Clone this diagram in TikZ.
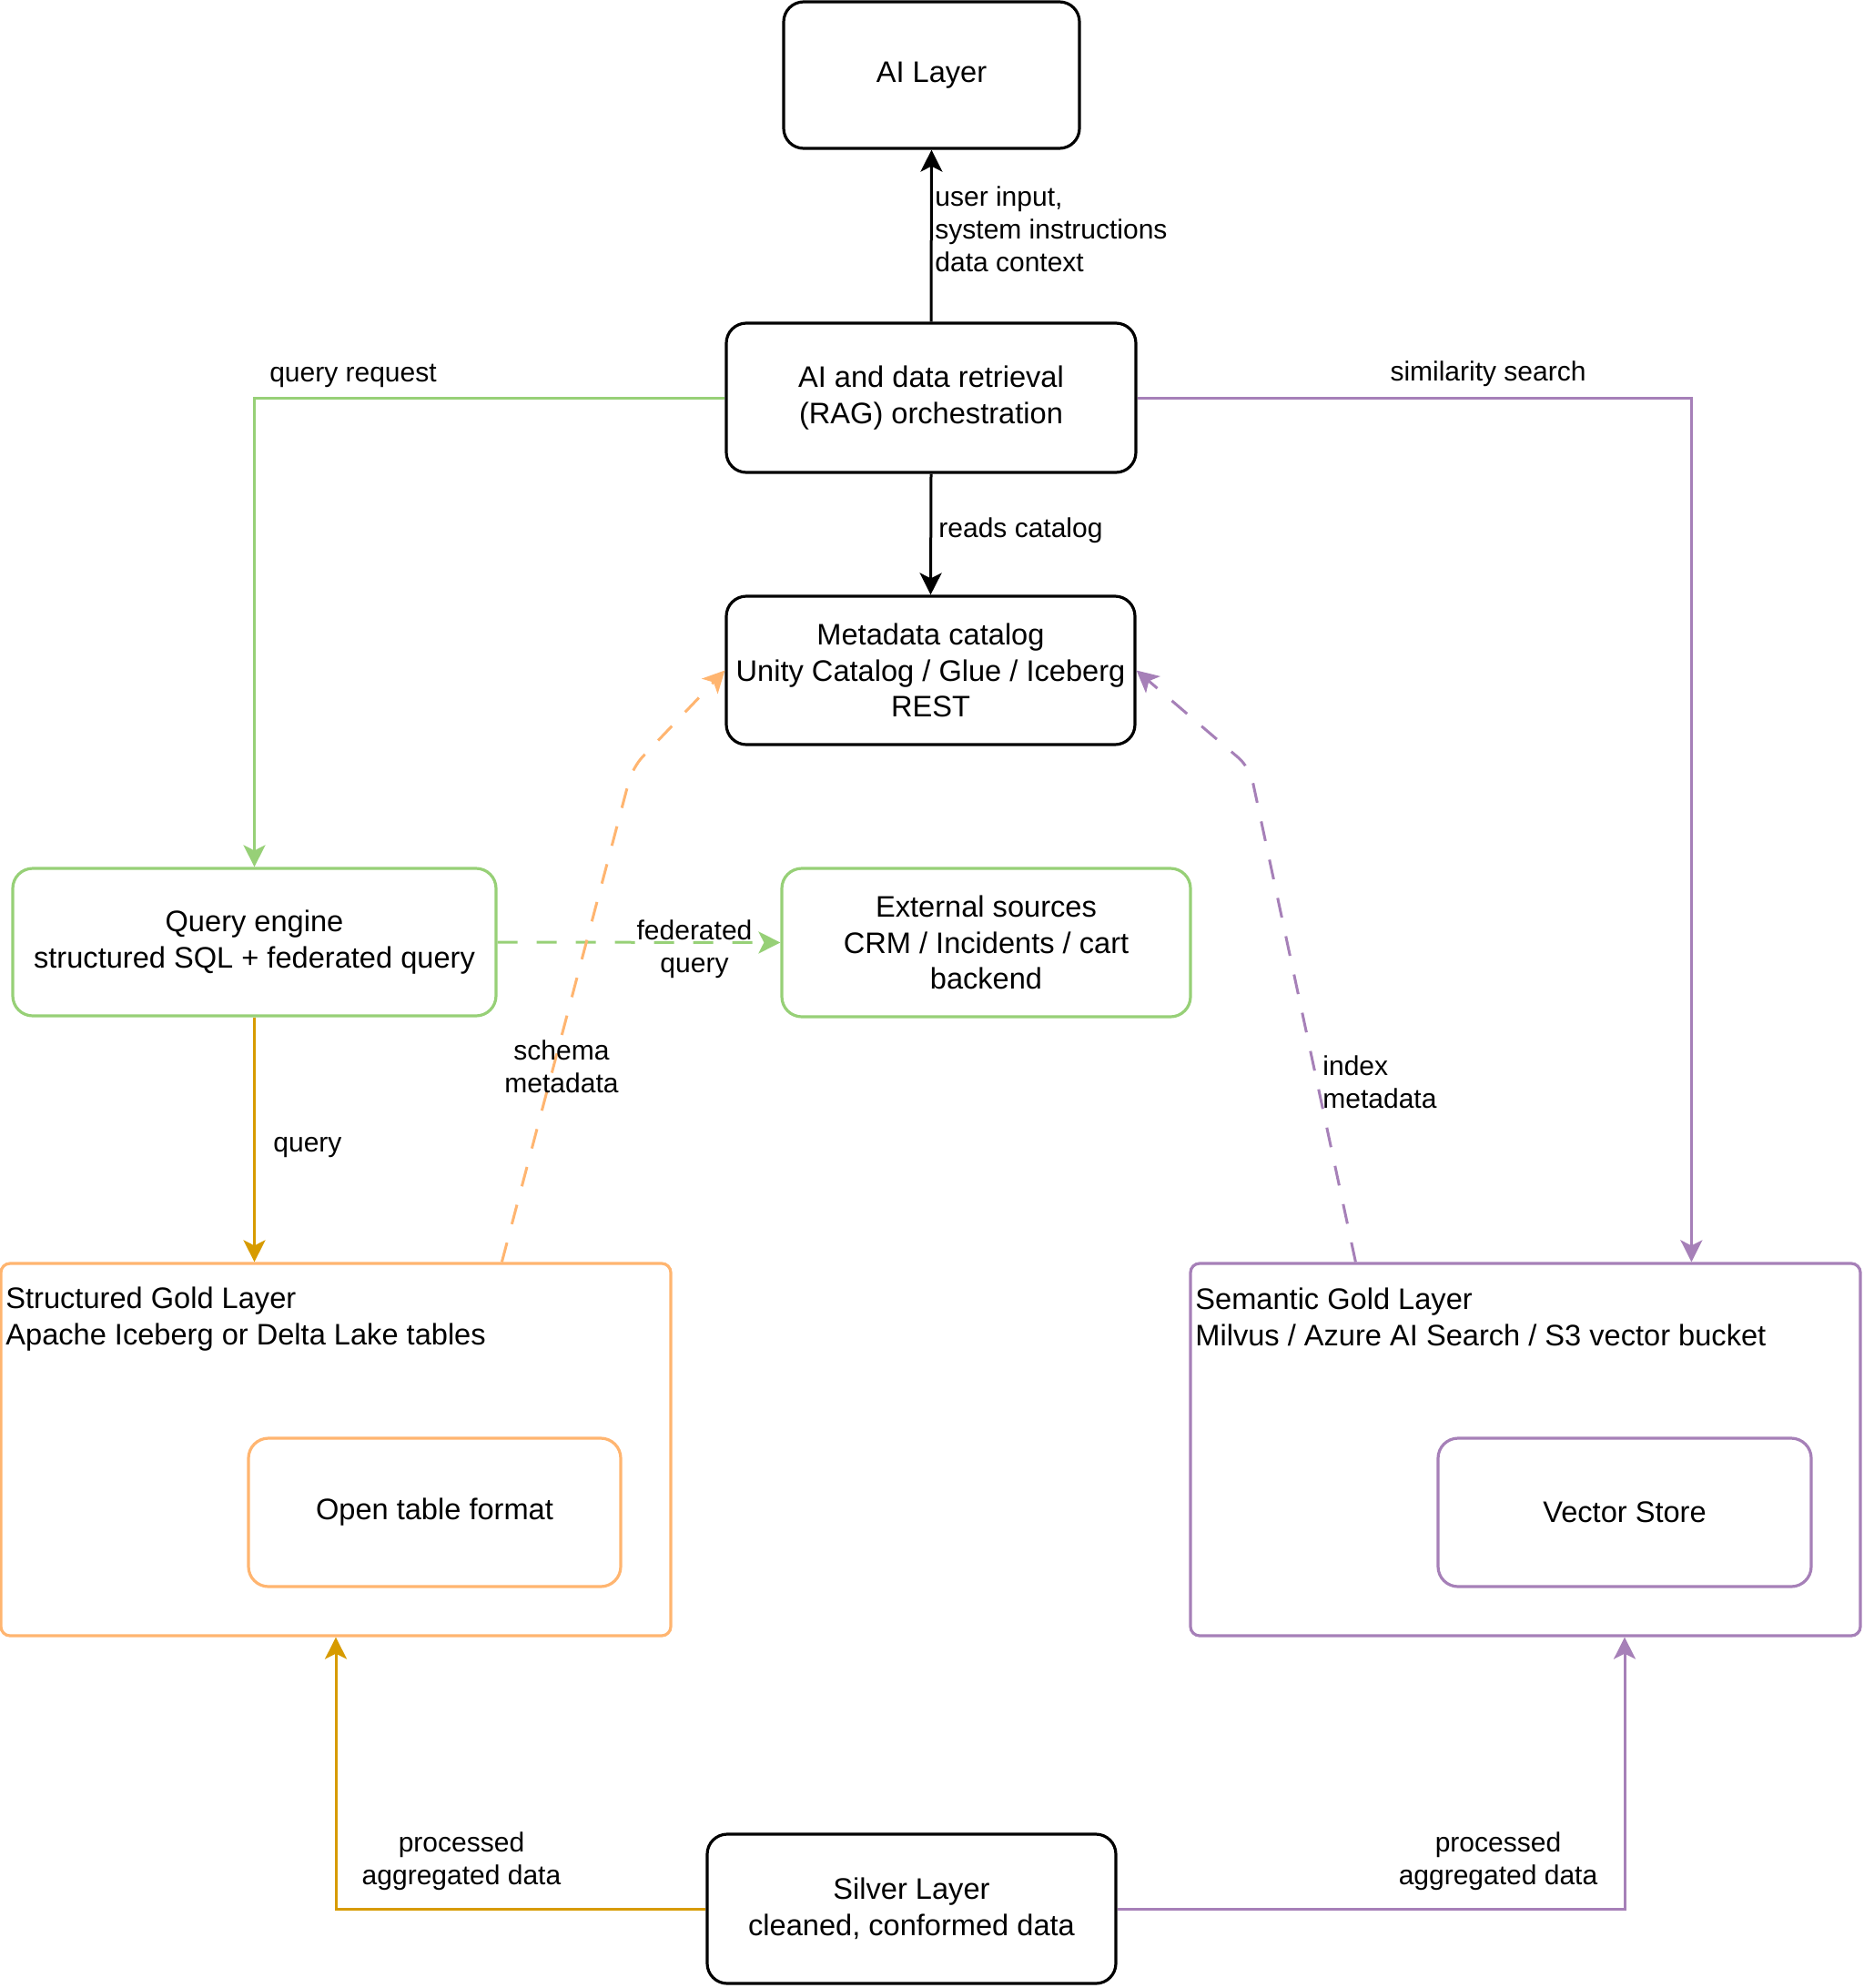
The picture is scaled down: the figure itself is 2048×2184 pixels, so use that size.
\documentclass[tikz,border=0pt]{standalone}
\usepackage{fontspec}
\setmainfont{Liberation Sans}
\usetikzlibrary{arrows.meta,calc}
\definecolor{cgreen}{HTML}{97D077}
\definecolor{corange}{HTML}{FFB570}
\definecolor{cgold}{HTML}{D79B00}
\definecolor{cpurple}{HTML}{A680B8}
\newcommand\mynodefont{\fontsize{16.3}{19.8}\selectfont}
\newcommand\mylabelfont{\fontsize{15}{18}\selectfont}
\begin{document}
\begin{tikzpicture}[x=0.5pt,y=-0.5pt,
  box/.style={draw, line width=1.6pt, rounded corners=11pt, inner sep=0pt, align=center, font=\mynodefont},
  container/.style={draw, line width=1.6pt, rounded corners=5pt, inner sep=0pt},
  title/.style={inner sep=0pt, align=left, font=\mynodefont, anchor=west},
  lbl/.style={inner sep=0pt, align=center, font=\mylabelfont},
  conn/.style={line width=1.5pt, -{Stealth[length=12pt,width=12pt,inset=3pt]}},
  dashline/.style={dash pattern=on 11pt off 10.5pt},
]
\fill[white] (0,0) rectangle (2048,2184);
\useasboundingbox (0,0) rectangle (2048,2184);

% nodes
\node[box, minimum width=162.5pt, minimum height=80.5pt] (ai) at (1023.5,82.5) {AI Layer};
\node[box, minimum width=225pt, minimum height=82pt] (rag) at (1023,437) {AI and data retrieval\\(RAG) orchestration};
\node[box, minimum width=224.5pt, minimum height=81.5pt] (meta) at (1022.5,736.5) {Metadata catalog\\Unity Catalog / Glue / Iceberg\\REST};
\node[box, cgreen, text=black, minimum width=265.5pt, minimum height=81pt] (qe) at (279.5,1035) {Query engine\\structured SQL + federated query};
\node[box, cgreen, text=black, minimum width=224.5pt, minimum height=81.5pt] (ext) at (1083.5,1035.5) {External sources\\CRM / Incidents / cart\\backend};
\node[container, corange, minimum width=368pt, minimum height=204.5pt] (sg) at (369,1592.5) {};
\node[box, corange, text=black, minimum width=204.5pt, minimum height=81.5pt] (otf) at (477.5,1661.5) {Open table format};
\node[container, cpurple, minimum width=368pt, minimum height=204.5pt] (sem) at (1676,1592.5) {};
\node[box, cpurple, text=black, minimum width=205pt, minimum height=81.5pt] (vs) at (1785,1661.5) {Vector Store};
\node[box, minimum width=224.5pt, minimum height=82pt] (silver) at (1001.5,2097) {Silver Layer\\cleaned, conformed data};

\node[title] (sgt) at (6,1449) {Structured Gold Layer\\Apache Iceberg or Delta Lake tables};
\node[title] (semt) at (1313,1447) {Semantic Gold Layer\\Milvus / Azure AI Search / S3 vector bucket};

% connectors
\draw[conn] (rag.north) -- (ai.south);
\draw[conn] (rag.south) -- (meta.north);
\draw[conn, cgreen] (rag.west) -| (qe.north);
\draw[conn, cpurple] (rag.east) -| ([xshift=276pt]sem.north west);
\draw[conn, cgreen, dashline] (qe.east) -- (ext.west);
\draw[conn, cgold] (qe.south) -- (qe.south |- sg.north);
\draw[conn, cgold] (silver.west) -| (sg.south);
\draw[conn, cpurple] (silver.east) -| (vs.center |- sem.south);
\coordinate (ob) at (695,843);
\coordinate (pb) at (1373,843);
\draw[conn, corange, dashline, rounded corners=8pt] ([xshift=276pt]sg.north west) -- (ob) -- (meta.west);
\draw[conn, cpurple, dashline, rounded corners=8pt] ([xshift=91.5pt]sem.north west) -- (pb) -- (meta.east);

% labels
\node[lbl, anchor=west, align=left] (l1) at (1027,252) {user input,\\system instructions\\data context};
\node[lbl, anchor=west] (l2) at (1031,583) {reads catalog};
\node[lbl] (l3) at (388,413) {query request};
\node[lbl] (l4) at (1635,411) {similarity search};
\node[lbl] (l5) at (763,1043) {federated\\query};
\node[lbl] (l6) at (617,1172) {schema\\metadata};
\node[lbl, anchor=west, align=left] (l7) at (1453,1189) {index\\metadata};
\node[lbl, anchor=west] (l8) at (300,1261) {query};
\node[lbl] (l9) at (507,2045) {processed\\aggregated data};
\node[lbl] (l10) at (1646,2045) {processed\\aggregated data};
\end{tikzpicture}
\end{document}
